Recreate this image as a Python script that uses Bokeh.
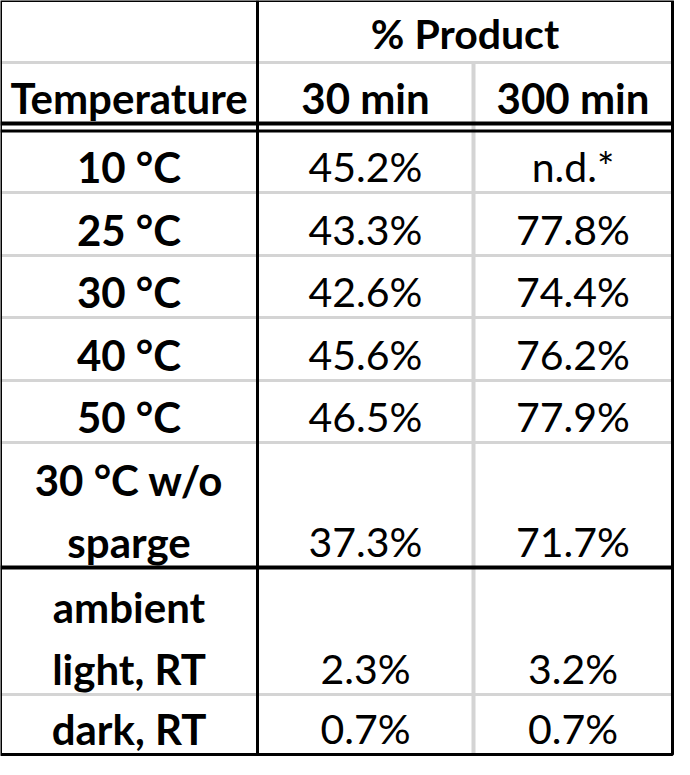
from bokeh.core.properties import value
from bokeh.embed import file_html
from bokeh.models import Range1d
from bokeh.plotting import figure
from bokeh.resources import INLINE

# table contents
header_top = "% Product"
header_cols = ["Temperature", "30 min", "300 min"]
temperatures = ["10 °C", "25 °C", "30 °C", "40 °C", "50 °C",
                "30 °C w/o\nsparge", "ambient\nlight, RT", "dark, RT"]
product_30 = [45.2, 43.3, 42.6, 45.6, 46.5, 37.3, 2.3, 0.7]
product_300 = [None, 77.8, 74.4, 76.2, 77.9, 71.7, 3.2, 0.7]

# layout (pixels)
left, right, top, bottom = 8, 680, 8, 762
col_edges = [left, 265, 481, right]
row_bottoms = [200, 263, 325, 388, 450, 575, 702, 762]
line_step = 62
shift = 16  # text baseline correction
font = value("Lato")
grey = "#d4d4d4"


def fmt(v):
    return "n.d.*" if v is None else f"{v:.1f}%"


p = figure(width=674, height=758, x_range=Range1d(8, 682), y_range=Range1d(766, 8),
           output_backend="svg", toolbar_location=None, min_border=0)
p.axis.visible = False
p.grid.visible = False
p.outline_line_color = None

# grey grid lines
p.segment(x0=[left, col_edges[1]], y0=[70, 70], x1=[col_edges[1], right], y1=[70, 70],
          line_color=grey, line_width=3)
gy = [b for b in row_bottoms[:-1] if b != 575]
p.segment(x0=[left] * len(gy), y0=gy, x1=[right] * len(gy), y1=gy,
          line_color=grey, line_width=3)
p.segment(x0=[col_edges[2]], y0=[70], x1=[col_edges[2]], y1=[bottom],
          line_color=grey, line_width=4)

# black rules
p.segment(x0=[left, left, left], y0=[131, 138.5, 575],
          x1=[right, right, right], y1=[131, 138.5, 575],
          line_color="black", line_width=[4, 3, 4])
p.segment(x0=[col_edges[1]], y0=[top], x1=[col_edges[1]], y1=[bottom],
          line_color="black", line_width=3)
p.quad(left=left, right=right, top=top, bottom=bottom, fill_color=None,
       line_color="black", line_width=3)

# headers
centers = [(col_edges[i] + col_edges[i + 1]) / 2 for i in range(3)]
p.text(x=[(col_edges[1] + right) / 2], y=[57 - shift], text=[header_top],
       text_font=font, text_font_style="bold", text_font_size="41px",
       text_align="center", text_baseline="alphabetic")
p.text(x=centers, y=[121 - shift] * 3, text=header_cols,
       text_font=font, text_font_style="bold", text_font_size="42px",
       text_align="center", text_baseline="alphabetic")

# body
lx, ly, lt = [], [], []
vx, vy, vt = [], [], []
for label, a, b, rb in zip(temperatures, product_30, product_300, row_bottoms):
    base = rb - 10 - shift
    lines = label.split("\n")
    for k, ln in enumerate(reversed(lines)):
        lx.append(centers[0])
        ly.append(base - k * line_step)
        lt.append(ln)
    vx += [centers[1], centers[2]]
    vy += [base, base]
    vt += [fmt(a), fmt(b)]

p.text(x=lx, y=ly, text=lt, text_font=font, text_font_style="bold",
       text_font_size="42px", text_align="center", text_baseline="alphabetic")
p.text(x=vx, y=vy, text=vt, text_font=font, text_font_size="41px",
       text_align="center", text_baseline="alphabetic")

open("out.html", "w").write(file_html(p, INLINE))
